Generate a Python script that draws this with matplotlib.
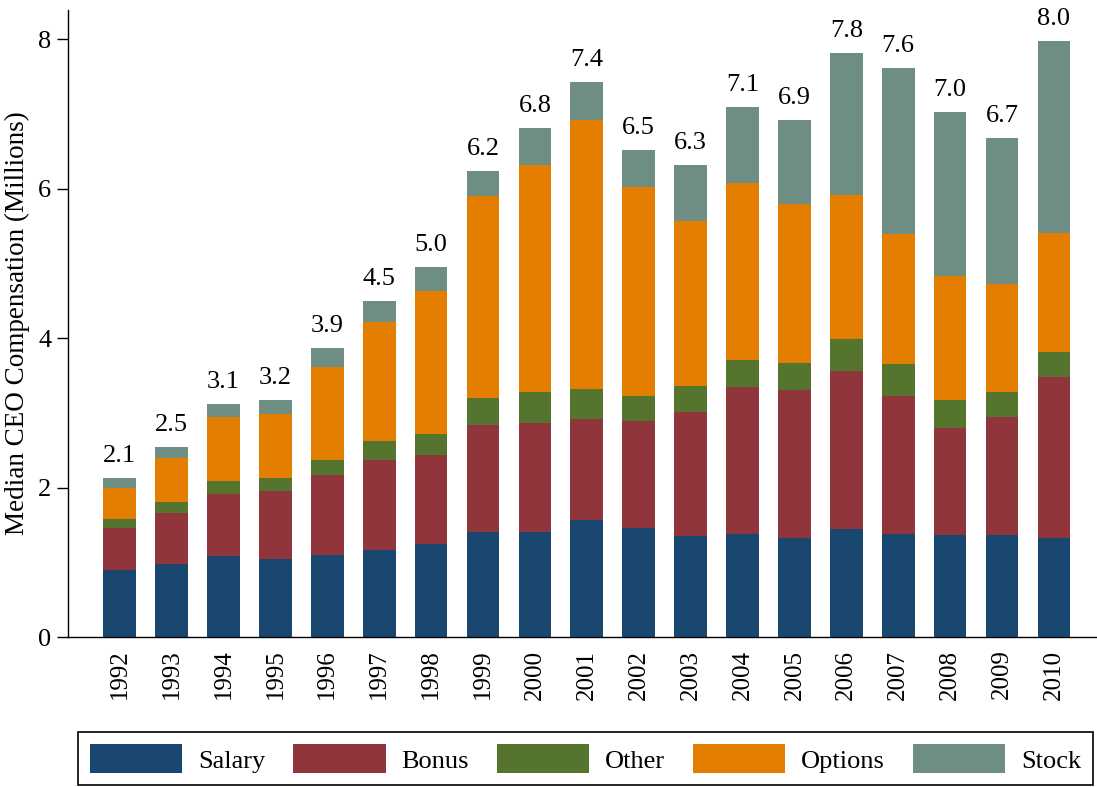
import matplotlib
matplotlib.use("Agg")
import matplotlib.pyplot as plt
import numpy as np

plt.rcParams["font.family"] = ["Liberation Serif", "DejaVu Serif"]

years = [str(y) for y in range(1992, 2011)]
totals = [2.1, 2.5, 3.1, 3.2, 3.9, 4.5, 5.0, 6.2, 6.8, 7.4, 6.5, 6.3, 7.1, 6.9, 7.8, 7.6, 7.0, 6.7, 8.0]

# cumulative tops, turned into segment sizes below
salary_top = [0.90, 0.98, 1.08, 1.04, 1.10, 1.17, 1.25, 1.40, 1.41, 1.57, 1.46, 1.35, 1.38, 1.32, 1.45, 1.38, 1.37, 1.36, 1.33]
bonus_top = [1.46, 1.66, 1.92, 1.96, 2.17, 2.37, 2.44, 2.84, 2.87, 2.92, 2.89, 3.01, 3.34, 3.30, 3.56, 3.22, 2.79, 2.94, 3.48]
other_top = [1.58, 1.81, 2.09, 2.13, 2.37, 2.62, 2.71, 3.20, 3.28, 3.32, 3.23, 3.36, 3.71, 3.67, 3.99, 3.65, 3.17, 3.28, 3.81]
options_top = [2.00, 2.40, 2.95, 2.98, 3.61, 4.22, 4.63, 5.90, 6.32, 6.92, 6.02, 5.56, 6.07, 5.79, 5.92, 5.39, 4.83, 4.72, 5.41]
stock_top = [2.13, 2.54, 3.12, 3.17, 3.87, 4.50, 4.95, 6.23, 6.81, 7.42, 6.52, 6.32, 7.09, 6.92, 7.81, 7.61, 7.02, 6.68, 7.97]

salary = np.array(salary_top)
bonus = np.array(bonus_top) - np.array(salary_top)
other = np.array(other_top) - np.array(bonus_top)
options = np.array(options_top) - np.array(other_top)
stock = np.array(stock_top) - np.array(options_top)

parts = [
    ("Salary", salary, "#1a476f"),
    ("Bonus", bonus, "#90353b"),
    ("Other", other, "#55752f"),
    ("Options", options, "#e37e00"),
    ("Stock", stock, "#6e8e84"),
]

fig = plt.figure(figsize=(10.97, 7.87), dpi=100)
ax = fig.add_axes([68 / 1097, 150 / 787, 1 - 68 / 1097, 627 / 787])

x = np.arange(len(years))
bottom = np.zeros(len(years))
for name, vals, color in parts:
    ax.bar(x, vals, width=0.63, bottom=bottom, color=color, label=name, linewidth=0)
    bottom = bottom + vals

for xi, top, lab in zip(x, stock_top, totals):
    ax.annotate(f"{lab:.1f}", (xi, top), xytext=(0, 8), textcoords="offset points",
                ha="center", va="bottom", fontsize=19)

ax.set_xlim(-0.996, 18.83)
ax.set_ylim(0, 8.39)
ax.set_yticks([0, 2, 4, 6, 8])
ax.set_xticks(x)
ax.set_xticklabels(years, rotation=90)
ax.tick_params(axis="x", length=0, pad=9, labelsize=18)
ax.tick_params(axis="y", length=8, width=1, pad=4, labelsize=19)
ax.set_ylabel("Median CEO Compensation (Millions)", fontsize=19.5, labelpad=6)

for side in ["top", "right"]:
    ax.spines[side].set_visible(False)
for side in ["left", "bottom"]:
    ax.spines[side].set_linewidth(1)

leg = fig.legend(loc="lower left", bbox_to_anchor=(78 / 1097, 2 / 787, 1015 / 1097, 54 / 787),
                 bbox_transform=fig.transFigure, mode="expand", ncol=5, fontsize=19,
                 handlelength=3.5, handleheight=1.3, handletextpad=0.6,
                 borderpad=0.45, borderaxespad=0, fancybox=False, framealpha=1,
                 edgecolor="black")
leg.get_frame().set_linewidth(1.2)

fig.savefig("out.png", dpi=100)
